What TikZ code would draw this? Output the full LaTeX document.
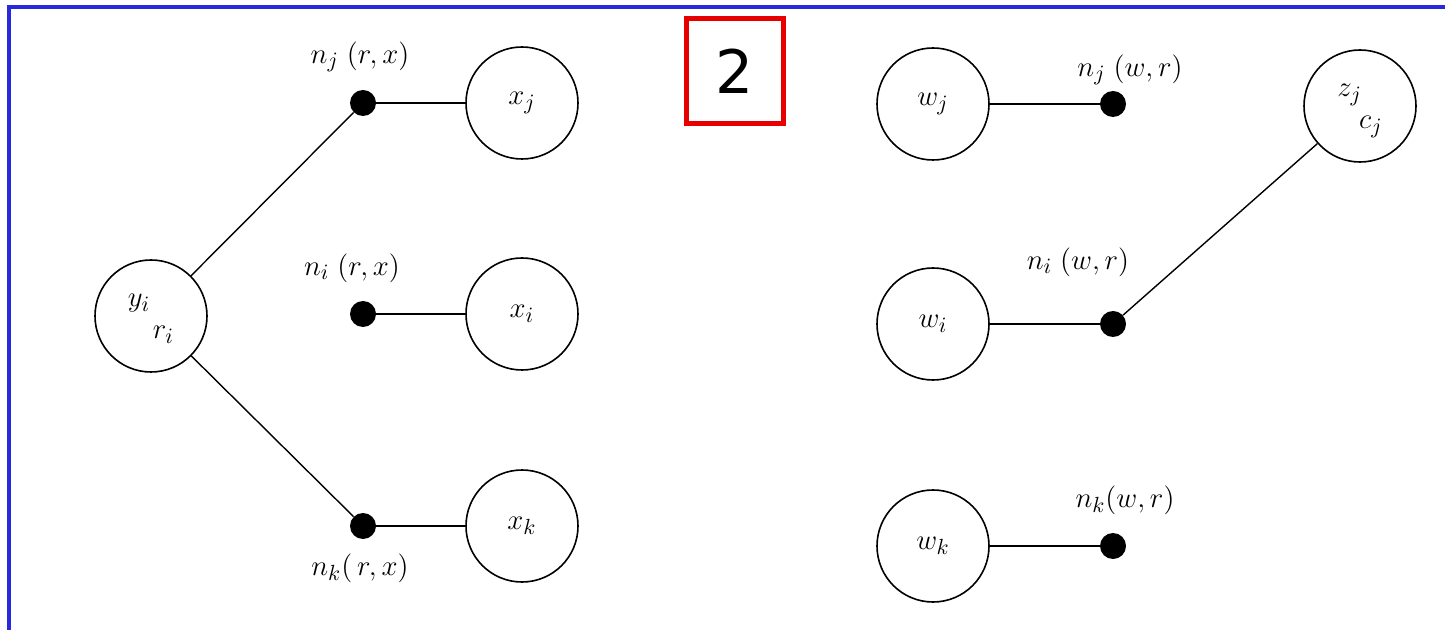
\documentclass[tikz,border=0pt]{standalone}
\usepackage{fontspec}
\newfontfamily\numfont{DejaVu Sans}
\definecolor{frameblue}{RGB}{40,40,220}
\definecolor{boxred}{RGB}{230,0,0}
\tikzset{
  every node/.style={font=\fontsize{15.5}{17}\selectfont},
  var/.style={circle, draw, line width=0.8pt, minimum size=56pt, inner sep=0pt},
  dot/.style={circle, fill, minimum size=13pt, inner sep=0pt},
  link/.style={line width=0.7pt},
  lbl/.style={inner sep=0pt}
}
\begin{document}
\begin{tikzpicture}[x=0.5pt, y=-0.5pt]
  \useasboundingbox (0,0) rectangle (1445,630);
  % outer frame (right and bottom sides run off the page)
  \draw[frameblue, line width=1.75pt] (9,700) -- (9,7) -- (1500,7);
  % numbered tag
  \node[draw=boxred, line width=2.5pt, minimum width=48.5pt, minimum height=52.5pt, inner sep=0pt,
        font=\numfont\fontsize{30}{30}\selectfont] (tag) at (735,71) {2};

  % left group
  \node[var] (y) at (151,316) {};
  \node[lbl] (ytxt) at (y.center) {\begin{tabular}{@{}l@{}}$y_i$\\[-1pt]\hspace{0.8em}$r_i$\end{tabular}};
  \node[dot] (dj) at (363,103) {};
  \node[dot] (di) at (363,314) {};
  \node[dot] (dk) at (363,526) {};
  \node[var] (xj) at (522,103) {$x_j$};
  \node[var] (xi) at (522,314) {$x_i$};
  \node[var] (xk) at (522,526) {$x_k$};
  \node[lbl] (lj) at (360,57) {$n_j\;(r, x)$};
  \node[lbl] (li) at (352,268) {$n_i\;(r, x)$};
  \node[lbl] (lk) at (360,568) {$n_k(\,r, x)$};
  \draw[link] (y) -- (dj);
  \draw[link] (y) -- (dk);
  \draw[link] (dj) -- (xj);
  \draw[link] (di) -- (xi);
  \draw[link] (dk) -- (xk);

  % right group
  \node[var] (wj) at (933,104) {$w_j$};
  \node[var] (wi) at (933,324) {$w_i$};
  \node[var] (wk) at (933,546) {$w_k$};
  \node[dot] (ej) at (1113,104) {};
  \node[dot] (ei) at (1113,324) {};
  \node[dot] (ek) at (1113,546) {};
  \node[var] (z) at (1360,106) {};
  \node[lbl] (ztxt) at (z.center) {\begin{tabular}{@{}l@{}}$z_j$\\[-1pt]\hspace{0.7em}$c_j$\end{tabular}};
  \node[lbl] (mj) at (1130,70) {$n_j\;(w, r)$};
  \node[lbl] (mi) at (1078,262) {$n_i\;(w, r)$};
  \node[lbl] (mk) at (1125,500) {$n_k(w, r)$};
  \draw[link] (wj) -- (ej);
  \draw[link] (wi) -- (ei);
  \draw[link] (wk) -- (ek);
  \draw[link] (z) -- (ei);
\end{tikzpicture}
\end{document}
